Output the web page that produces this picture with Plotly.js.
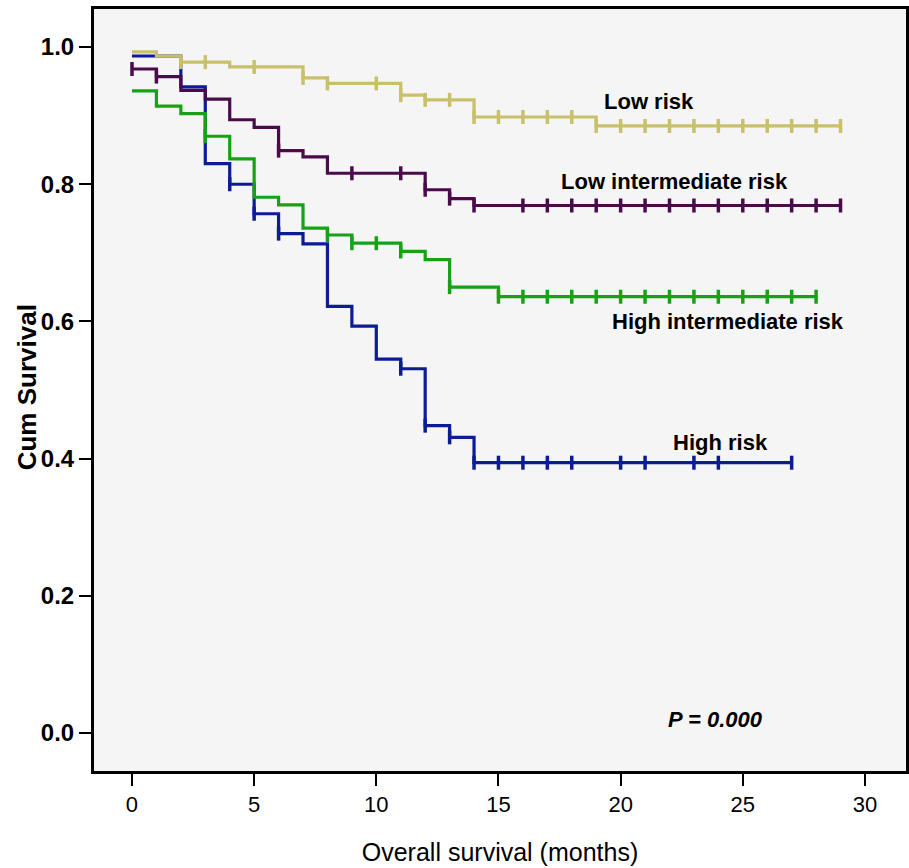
<!DOCTYPE html>
<html>
<head>
<meta charset="utf-8">
<script src="https://cdn.plot.ly/plotly-3.0.1.min.js"></script>
<style>html,body{margin:0;padding:0;background:#fff;}#chart{width:909px;height:868px;}</style>
</head>
<body>
<div id="chart"></div>
<script>
// Step points (months, cumulative survival)
const lowT = [0, 1, 2, 4, 7, 8, 11, 12, 14, 19, 29];
const lowS = [0.993, 0.987, 0.978, 0.971, 0.955, 0.947, 0.930, 0.923, 0.898, 0.885, 0.885];
const lowC = [2, 3, 5, 7, 8, 10, 11, 12, 13, 14, 15, 16, 17, 18, 19, 20, 21, 22, 23, 24, 25, 26, 27, 28, 29];

const lowIntT = [0, 1, 2, 3, 4, 5, 6, 7, 8, 12, 13, 14, 29];
const lowIntS = [0.968, 0.957, 0.937, 0.924, 0.894, 0.883, 0.849, 0.840, 0.816, 0.792, 0.779, 0.769, 0.769];
const lowIntC = [0, 1, 6, 9, 11, 12, 13, 14, 16, 17, 18, 19, 20, 21, 22, 23, 24, 25, 26, 27, 28, 29];

const highIntT = [0, 1, 2, 3, 4, 5, 6, 7, 8, 9, 11, 12, 13, 15, 28];
const highIntS = [0.936, 0.914, 0.903, 0.870, 0.837, 0.781, 0.770, 0.736, 0.726, 0.714, 0.702, 0.690, 0.650, 0.636, 0.636];
const highIntC = [3, 8, 9, 10, 11, 13, 15, 16, 17, 18, 19, 20, 21, 22, 23, 24, 25, 26, 27, 28];

const highT = [0, 2, 3, 4, 5, 6, 7, 8, 9, 10, 11, 12, 13, 14, 27];
const highS = [0.987, 0.942, 0.830, 0.800, 0.757, 0.728, 0.713, 0.622, 0.593, 0.545, 0.531, 0.448, 0.431, 0.394, 0.394];
const highC = [4, 5, 6, 11, 12, 13, 14, 15, 16, 17, 18, 20, 21, 23, 24, 27];

const groupNames = ["High risk", "High intermediate risk", "Low intermediate risk", "Low risk"];
const groupColors = ["#0c1c94", "#17a117", "#4b0b4b", "#c9c06a"];
const xTicks = [0, 5, 10, 15, 20, 25, 30];
const yTicks = [0.0, 0.2, 0.4, 0.6, 0.8, 1.0];
const yTickText = ["0.0", "0.2", "0.4", "0.6", "0.8", "1.0"];

const groups = [
  {T: highT, S: highS, C: highC},
  {T: highIntT, S: highIntS, C: highIntC},
  {T: lowIntT, S: lowIntS, C: lowIntC},
  {T: lowT, S: lowS, C: lowC}
];

function stepAt(T, S, t) {
  let v = S[0];
  for (let i = 0; i < T.length; i++) { if (T[i] <= t) v = S[i]; }
  return v;
}

const traces = [];
groups.forEach((g, i) => {
  traces.push({
    x: g.T, y: g.S, type: 'scatter', mode: 'lines',
    line: {shape: 'hv', color: groupColors[i], width: 3.2},
    name: groupNames[i], hoverinfo: 'skip', showlegend: false
  });
  traces.push({
    x: g.C, y: g.C.map(t => stepAt(g.T, g.S, t)), type: 'scatter', mode: 'markers',
    marker: {symbol: 'line-ns', size: 10, color: groupColors[i], line: {color: groupColors[i], width: 3.5}},
    name: groupNames[i] + ' censored', hoverinfo: 'skip', showlegend: false
  });
});

const labelFont = {family: 'Liberation Sans, Arial, sans-serif', size: 22, color: '#000'};
const annotations = [
  {x: 21.16, y: 0.920, text: '<b>Low risk</b>'},
  {x: 22.2, y: 0.804, text: '<b>Low intermediate risk</b>'},
  {x: 24.4, y: 0.600, text: '<b>High intermediate risk</b>'},
  {x: 24.07, y: 0.423, text: '<b>High risk</b>'},
  {x: 23.9, y: 0.020, text: '<b><i>P = 0.000</i></b>'}
].map(a => Object.assign({xref: 'x', yref: 'y', showarrow: false, xanchor: 'center', yanchor: 'middle', font: labelFont}, a));

annotations.push({
  xref: 'paper', yref: 'paper', x: -0.083, y: 0.503, xanchor: 'center', yanchor: 'middle',
  textangle: -90, showarrow: false, text: '<b>Cum Survival</b>',
  font: {family: 'Liberation Sans, Arial, sans-serif', size: 26, color: '#000'}
});

const layout = {
  width: 909, height: 868,
  margin: {l: 94, r: 3, t: 9, b: 97},
  paper_bgcolor: '#ffffff',
  plot_bgcolor: '#f5f5f5',
  showlegend: false,
  xaxis: {
    range: [-1.555, 31.68], tickvals: xTicks, ticktext: xTicks.map(String),
    showgrid: false, zeroline: false, showline: true, mirror: true,
    linecolor: '#000', linewidth: 3,
    ticks: 'outside', ticklen: 12, tickwidth: 2, tickcolor: '#000',
    tickfont: {family: 'Liberation Sans, Arial, sans-serif', size: 22, color: '#000'},
    title: {text: 'Overall survival (months)', standoff: 28,
            font: {family: 'Liberation Sans, Arial, sans-serif', size: 25, color: '#000'}}
  },
  yaxis: {
    range: [-0.0555, 1.0555], tickvals: yTicks, ticktext: yTickText,
    showgrid: false, zeroline: false, showline: true, mirror: true,
    linecolor: '#000', linewidth: 3,
    ticks: 'outside', ticklen: 12, tickwidth: 2, tickcolor: '#000',
    tickfont: {family: 'Liberation Sans, Arial, sans-serif', size: 24, color: '#000', weight: 'bold'}
  },
  annotations: annotations
};

Plotly.newPlot('chart', traces, layout, {staticPlot: true, displayModeBar: false});
</script>
</body>
</html>
